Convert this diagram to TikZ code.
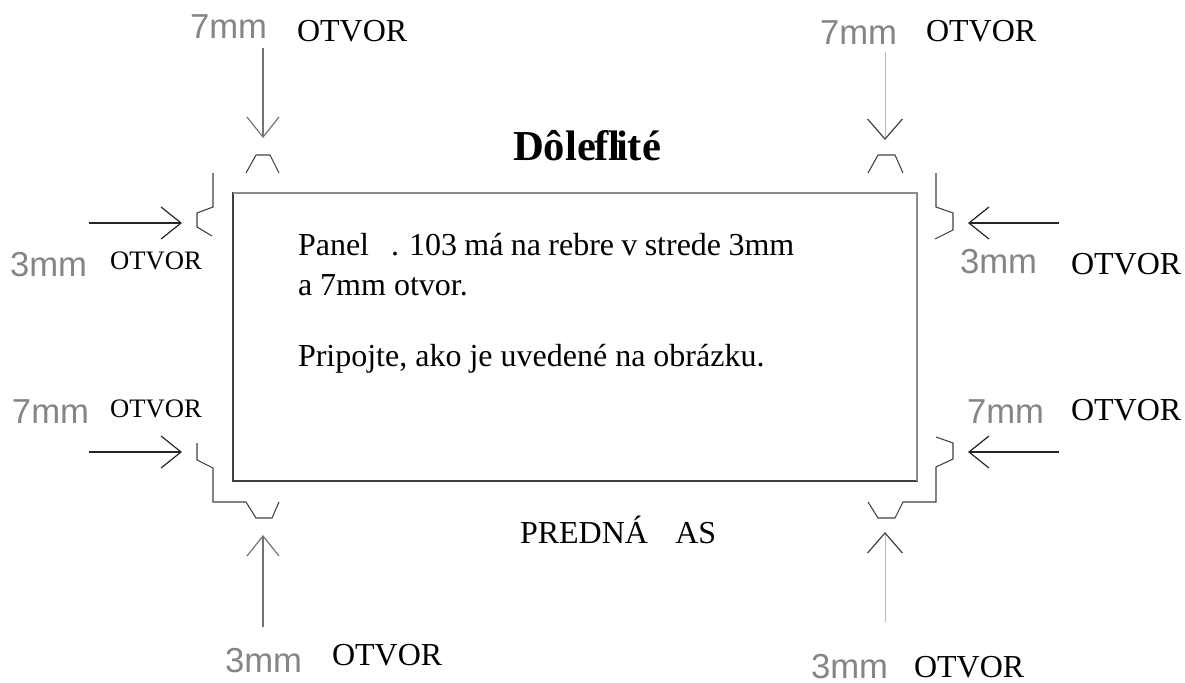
\documentclass[tikz,border=0pt]{standalone}
\usepackage{fontspec}
\usetikzlibrary{arrows.meta}
\setmainfont{Liberation Serif}
\newfontfamily\dimfont{Liberation Sans}
\definecolor{ink}{gray}{0.25}
\tikzset{
  x=0.75pt,y=-0.75pt,
  txt/.style={anchor=base west,inner sep=0pt,outer sep=0pt,text=black},
  big/.style={txt,font=\fontsize{24}{24}\selectfont},
  small/.style={txt,font=\fontsize{20}{20}\selectfont},
  body/.style={txt,font=\fontsize{24}{24}\selectfont},
  dim/.style={anchor=base west,inner sep=0pt,outer sep=0pt,text=black!48,font=\dimfont\fontsize{26}{26}\selectfont},
  profile/.style={draw=ink,line width=0.8pt,line join=miter},
  probe/.style={draw=ink,line width=0.9pt,-{Straight Barb[length=15pt,width=24pt,line width=0.9pt]}},
  faint/.style={draw=black!28,line width=0.7pt,-{Straight Barb[length=15pt,width=26pt,line width=0.9pt,color=ink]}},
  panel/.style={draw=black!75,line width=1.1pt},
}
\begin{document}
\begin{tikzpicture}
\useasboundingbox (0,0) rectangle (1185,682);
\draw[panel] (233,193) rectangle (917,481);
\draw[panel,draw=black!45] (233,193) -- (917,193) -- (917,481);
% headings and text
\node[txt,font=\fontsize{32}{32}\selectfont\bfseries] (title) at (513,160) {D\^ole\kern-1pt fl\kern-3.5pt it\'e};
\node[body] (l1) at (298,255) {\spaceskip=5.5pt Panel\hspace{16.5pt}. 103 m\'a na rebre v strede 3mm};
\node[body] (l2) at (298,295) {a 7mm otvor.};
\node[body] (l3) at (298,366) {Pripojte, ako je uveden\'e na obr\'azku.};
\node[body] (front) at (520,543) {PREDN\'A\hspace{20.5pt}AS};
% dimension labels
\node[dim] (d1) at (190,38) {7mm};
\node[big] (o1) at (297,41) {OTVOR};
\node[dim] (d2) at (820,44) {7mm};
\node[big] (o2) at (926,41) {OTVOR};
\node[dim] (d3) at (10,276) {3mm};
\node[small] (o3) at (110,269) {OTVOR};
\node[dim] (d4) at (960,273) {3mm};
\node[big] (o4) at (1071,274) {OTVOR};
\node[dim] (d5) at (12,423) {7mm};
\node[small] (o5) at (110,417) {OTVOR};
\node[dim] (d6) at (967,423) {7mm};
\node[big] (o6) at (1071,420) {OTVOR};
\node[dim] (d7) at (225,672) {3mm};
\node[big] (o7) at (332,665) {OTVOR};
\node[dim] (d8) at (811,678) {3mm};
\node[big] (o8) at (914,677) {OTVOR};
% arrow ends
\coordinate (a1s) at (263,48);  \coordinate (a1e) at (263,138);
\coordinate (a2s) at (885,52);  \coordinate (a2e) at (885,140);
\coordinate (a3s) at (89,223);  \coordinate (a3e) at (182,223);
\coordinate (a4s) at (1059,223);\coordinate (a4e) at (968,223);
\coordinate (a5s) at (89,452);  \coordinate (a5e) at (182,452);
\coordinate (a6s) at (1059,452);\coordinate (a6e) at (968,452);
\coordinate (a7s) at (263,627); \coordinate (a7e) at (263,535);
\coordinate (a8s) at (885,622); \coordinate (a8e) at (885,532);
\draw[probe,draw=black!55] (a1s) -- (a1e);
\draw[faint] (a2s) -- (a2e);
\draw[probe,draw=black!85] (a3s) -- (a3e);
\draw[probe,draw=black!85] (a4s) -- (a4e);
\draw[probe,draw=black!85] (a5s) -- (a5e);
\draw[probe,draw=black!85] (a6s) -- (a6e);
\draw[probe,draw=black!55] (a7s) -- (a7e);
\draw[faint] (a8s) -- (a8e);
% rib profiles
\draw[profile] (246,173) -- (256,155) -- (270,155) -- (279,173);
\draw[profile] (868,173) -- (878,155) -- (895,155) -- (903,173);
\draw[profile] (213,173) -- (213,207) -- (197,213) -- (197,227) -- (212,236);
\draw[profile] (936,173) -- (936,207) -- (953,213) -- (953,230) -- (935,239);
\draw[profile] (197,443) -- (197,460) -- (213,468) -- (213,502) -- (246,502) -- (256,518) -- (272,518) -- (279,502);
\draw[profile] (936,437) -- (953,443) -- (953,459) -- (936,467) -- (936,502) -- (903,502) -- (895,518) -- (878,518) -- (868,502);
\end{tikzpicture}
\end{document}
